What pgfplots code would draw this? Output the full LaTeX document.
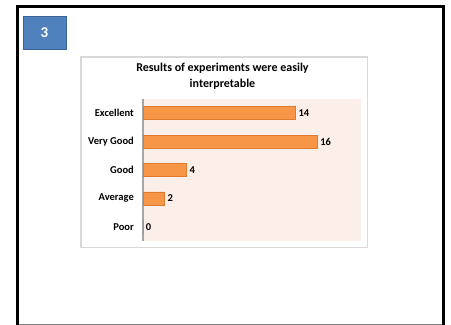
\documentclass[border=0pt]{standalone}
\usepackage{fontspec}
\setmainfont{Carlito}
\usepackage{pgfplots}
\pgfplotsset{compat=1.18}
\definecolor{barfill}{HTML}{F79646}
\definecolor{baredge}{HTML}{E07A30}
\definecolor{plotbg}{HTML}{FCEEE9}
\definecolor{boxblue}{HTML}{4F81BD}
\definecolor{boxedge}{HTML}{3A6497}
\definecolor{chartedge}{HTML}{D9D9D9}
\definecolor{axgray}{HTML}{A6A6A6}
\begin{document}
\begin{tikzpicture}
\useasboundingbox (0,0) rectangle (451bp,-325bp);
\clip (0,0) rectangle (451bp,-325bp);
\begin{scope}[x=1bp,y=-1bp]
  \fill[white] (0,0) rectangle (451,325);
  \draw[line width=3.6bp] (17.5,340) -- (17.5,6.5) -- (443.6,6.5) -- (443.6,340);
  \draw[gray, line width=1bp] (19,324.3) -- (442,324.3);
  \draw[fill=boxblue, draw=boxedge, line width=1bp] (23.2,16) rectangle (66.8,49.6);
  \node[text=white, font=\bfseries\fontsize{15bp}{18bp}\selectfont] at (44.5,32.5) {3};
  \draw[fill=white, draw=chartedge, line width=1.6bp] (81,57) rectangle (367.5,247.5);
  \node[font=\bfseries\fontsize{12bp}{14bp}\selectfont] at (222.5,68.5) {Results of experiments were easily};
  \node[font=\bfseries\fontsize{12bp}{14bp}\selectfont] at (222.5,84.5) {interpretable};
\end{scope}
\begin{axis}[
  at={(143bp,-241bp)}, anchor=south west,
  scale only axis, width=218bp, height=142bp,
  xbar, bar width=13bp,
  xmin=0, xmax=20, ymin=-0.5, ymax=4.5, y dir=reverse,
  axis x line=none, axis y line*=left,
  axis line style={draw=axgray, line width=1.3bp},
  axis background/.style={fill=plotbg},
  ytick={0,1,2,3,4},
  yticklabels={Excellent,Very Good,Good,Average,Poor},
  major tick length=0pt,
  yticklabel style={font=\bfseries\fontsize{10.5bp}{12bp}\selectfont, inner sep=0pt, xshift=-9bp},
  /pgf/number format/assume math mode=true,
  nodes near coords,
  nodes near coords style={font=\bfseries\fontsize{10.5bp}{12bp}\selectfont, anchor=west, inner sep=2.5bp},
  clip=false,
]
\addplot[fill=barfill, draw=baredge, line width=0.8bp] coordinates {(14,0) (16,1) (4,2) (2,3) (0,4)};
\end{axis}
\end{tikzpicture}
\end{document}
